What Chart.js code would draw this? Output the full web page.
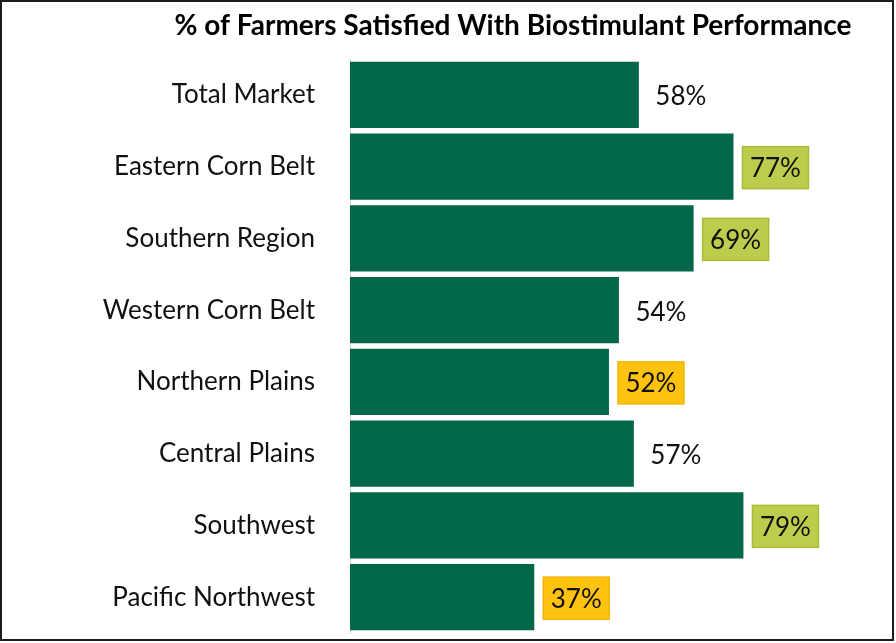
<!DOCTYPE html>
<html>
<head>
<meta charset="utf-8">
<script src="https://cdn.jsdelivr.net/npm/chart.js@4"></script>
<style>
  html, body { margin: 0; padding: 0; background: #fff; }
  #frame {
    position: absolute; left: 0; top: 0;
    width: 890px; height: 637px;
    border: 2px solid #1c1c1c;
  }
  canvas { display: block; }
</style>
</head>
<body>
<div id="frame"><canvas id="chart" width="890" height="637"></canvas></div>
<script>
// --- data ---
const regions = ["Total Market","Eastern Corn Belt","Southern Region","Western Corn Belt",
                 "Northern Plains","Central Plains","Southwest","Pacific Northwest"];
const satisfied = [58, 77, 69, 54, 52, 57, 79, 37];
// highlight of each value label: none / above / below
const highlight = ["none","high","high","none","low","none","high","low"];
const chartTitle = "% of Farmers Satisfied With Biostimulant Performance";

const GREEN = '#03674A';
const boxFill = { high: '#BDCC4C', low: '#FFC20F' };
const boxLine = { high: '#A9BC3A', low: '#F2B600' };

// value labels, boxed when highlighted
const valueLabels = {
  id: 'valueLabels',
  afterDatasetsDraw(chart) {
    const ctx = chart.ctx;
    const meta = chart.getDatasetMeta(0);
    ctx.save();
    ctx.font = '26px Lato, "Open Sans", sans-serif';
    ctx.textAlign = 'center';
    ctx.textBaseline = 'middle';
    meta.data.forEach((bar, i) => {
      const cx = bar.x + 42, cy = bar.y + 1;
      const h = highlight[i];
      if (h !== 'none') {
        ctx.fillStyle = boxFill[h];
        ctx.fillRect(cx - 33, cy - 21, 66, 42);
        ctx.strokeStyle = boxLine[h];
        ctx.lineWidth = 1.5;
        ctx.strokeRect(cx - 33, cy - 21, 66, 42);
      }
      ctx.fillStyle = '#111';
      ctx.fillText(satisfied[i] + '%', cx, cy + 1);
    });
    ctx.restore();
  }
};

const titleText = {
  id: 'titleText',
  afterDraw(chart) {
    const ctx = chart.ctx;
    ctx.save();
    ctx.font = 'bold 28px Lato, "Open Sans", sans-serif';
    ctx.fillStyle = '#000';
    ctx.textAlign = 'center';
    ctx.textBaseline = 'middle';
    ctx.fillText(chartTitle, 511, 24);
    ctx.restore();
  }
};

new Chart(document.getElementById('chart'), {
  type: 'bar',
  data: {
    labels: regions,
    datasets: [{ data: satisfied, backgroundColor: GREEN, borderWidth: 0,
                 categoryPercentage: 0.92, barPercentage: 1.0 }]
  },
  options: {
    indexAxis: 'y',
    responsive: false,
    animation: false,
    layout: { padding: { top: 57, bottom: 6, right: 44, left: 0 } },
    plugins: { legend: { display: false }, tooltip: { enabled: false } },
    scales: {
      x: { min: 0, max: 100, display: false, ticks: { display: false } },
      y: {
        afterFit(scale) {
          scale.width = 348;
          scale.paddingTop = 0;
          scale.paddingBottom = 0;
        },
        grid: { display: false, drawTicks: false },
        border: { display: true, color: '#d9d9d9', width: 1 },
        ticks: { color: '#111', padding: 35, font: { family: 'Lato, "Open Sans", sans-serif', size: 26 } }
      }
    }
  },
  plugins: [valueLabels, titleText]
});
</script>
</body>
</html>
